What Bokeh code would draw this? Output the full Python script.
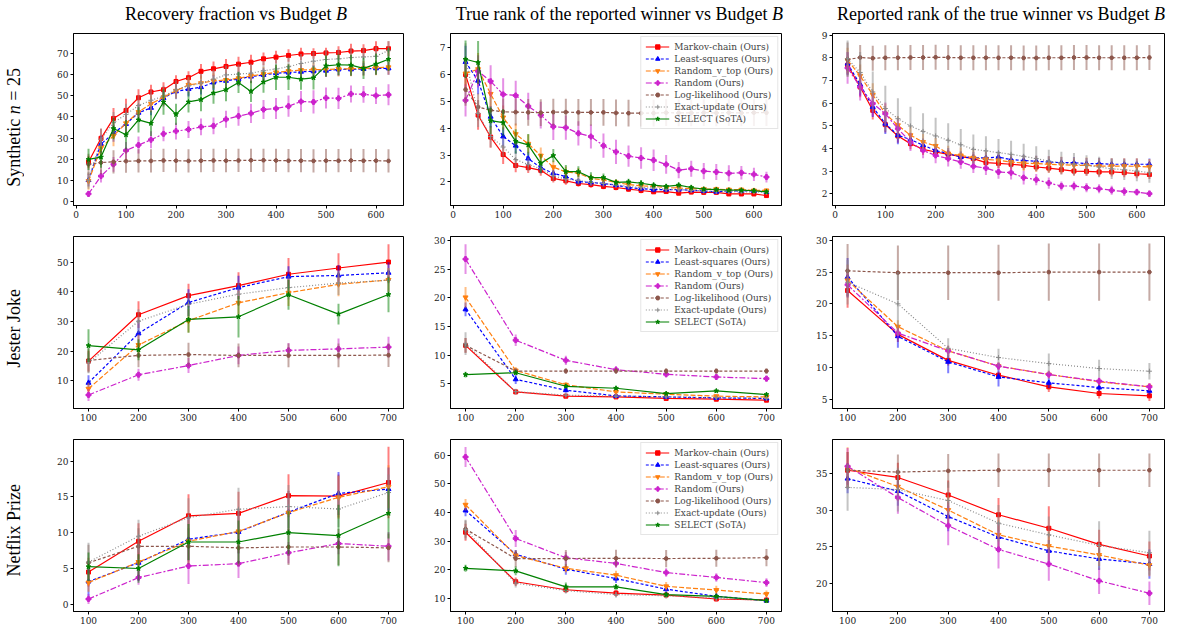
import numpy as np
from bokeh.plotting import figure
from bokeh.models import Range1d, FixedTicker, Legend, LegendItem, ColumnDataSource, Div
from bokeh.layouts import column, row
from bokeh.embed import file_html
from bokeh.resources import INLINE

# ---------------- data ----------------
METHODS = ["Markov-chain (Ours)", "Least-squares (Ours)", "Random_v_top (Ours)", "Random (Ours)",
           "Log-likelihood (Ours)", "Exact-update (Ours)", "SELECT (SoTA)"]
COL_TITLES = ["Recovery fraction vs Budget <i>B</i>", "True rank of the reported winner vs Budget <i>B</i>",
              "Reported rank of the true winner vs Budget <i>B</i>"]
ROW_LABELS = ["Synthetic <i>n</i> = 25", "Jester Joke", "Netflix Prize"]

X_SYN = [25, 50, 75, 100, 125, 150, 175, 200, 225, 250, 275, 300, 325,
         350, 375, 400, 425, 450, 475, 500, 525, 550, 575, 600, 625]
X_REAL = [100, 200, 300, 400, 500, 600, 700]

XT_SYN = [0, 100, 200, 300, 400, 500, 600]
XT_REAL = [100, 200, 300, 400, 500, 600, 700]

# Synthetic n=25 : recovery fraction
SYN_REC_MEAN = {
    "Markov-chain (Ours)": [18.7, 29.9, 39.3, 43.1, 49.1, 51.8, 52.9, 56.8, 58.6, 61.6, 62.8, 63.9, 65.0, 65.9, 67.5, 68.3, 69.1, 69.8, 70.0, 70.3, 70.5, 71.2, 71.4, 72.3, 72.3],
    "Least-squares (Ours)": [10.1, 27.2, 32.3, 36.7, 42.0, 44.3, 49.0, 52.1, 53.2, 54.1, 56.3, 57.1, 58.0, 59.1, 59.9, 60.7, 61.0, 61.4, 61.6, 61.9, 62.5, 62.5, 62.7, 63.0, 63.0],
    "Random_v_top (Ours)": [9.6, 25.3, 31.1, 37.0, 42.3, 46.2, 49.3, 52.4, 55.2, 56.0, 57.1, 57.5, 58.3, 59.4, 60.3, 61.1, 61.7, 62.2, 62.4, 62.5, 62.7, 62.8, 63.0, 63.3, 63.5],
    "Random (Ours)": [3.6, 12.0, 17.6, 24.1, 26.7, 29.2, 32.0, 33.3, 34.1, 35.3, 35.8, 38.9, 40.4, 41.7, 43.5, 44.0, 45.1, 47.3, 47.1, 49.0, 48.8, 50.9, 50.7, 50.1, 50.5],
    "Log-likelihood (Ours)": [17.6, 18.4, 18.8, 19.1, 19.2, 19.2, 19.4, 19.3, 19.2, 19.3, 19.4, 19.3, 19.4, 19.5, 19.5, 19.4, 19.3, 19.3, 19.2, 19.3, 19.3, 19.4, 19.3, 19.3, 19.2],
    "Exact-update (Ours)": [10.0, 29.5, 37.3, 41.2, 45.4, 47.9, 49.8, 52.9, 54.7, 56.0, 57.9, 59.9, 60.3, 60.7, 61.9, 62.7, 63.8, 65.3, 66.4, 67.2, 67.5, 68.1, 68.4, 68.7, 71.5],
    "SELECT (SoTA)": [19.9, 21.0, 34.5, 31.6, 38.6, 37.0, 47.1, 41.2, 47.1, 48.2, 51.3, 52.9, 56.3, 52.1, 56.5, 58.8, 58.8, 57.9, 58.5, 64.2, 64.7, 64.5, 63.0, 65.0, 67.3],
}
SYN_REC_ERR = {
    "Markov-chain (Ours)": [3.0, 4.5, 5.0, 5.5, 4.0, 3.5, 3.5, 3.0, 3.0, 3.5, 3.5, 3.5, 3.5, 3.5, 3.0, 3.0, 3.0, 3.0, 2.5, 2.5, 3.0, 3.5, 3.0, 3.5, 3.5],
    "Least-squares (Ours)": [3.0, 4.0, 4.0, 4.0, 4.0, 3.5, 3.5, 3.5, 3.5, 3.5, 3.5, 3.5, 3.5, 3.0, 3.0, 3.0, 3.0, 3.0, 3.0, 3.0, 3.0, 3.0, 3.0, 3.0, 3.0],
    "Random_v_top (Ours)": [4.0, 4.5, 5.0, 4.5, 4.0, 4.0, 4.0, 3.5, 3.5, 3.5, 3.5, 3.5, 3.5, 3.5, 3.5, 3.5, 3.5, 3.5, 3.5, 3.5, 3.5, 3.5, 3.5, 3.5, 3.5],
    "Random (Ours)": [1.5, 3.0, 3.5, 4.0, 4.0, 4.0, 3.5, 4.0, 4.0, 4.0, 4.0, 4.0, 4.5, 4.5, 4.5, 5.0, 5.0, 5.0, 5.5, 5.0, 5.0, 4.0, 4.0, 4.0, 5.0],
    "Log-likelihood (Ours)": [5.0, 5.5, 5.5, 5.5, 5.5, 5.5, 5.5, 5.5, 5.5, 5.5, 5.5, 5.5, 5.5, 5.5, 5.5, 5.5, 5.5, 5.5, 5.5, 5.5, 5.5, 5.5, 5.5, 5.5, 5.5],
    "Exact-update (Ours)": [4.0, 5.0, 5.0, 5.0, 5.0, 5.0, 5.0, 4.5, 4.5, 4.5, 4.5, 4.5, 4.5, 4.5, 4.5, 4.5, 4.5, 4.5, 4.5, 4.5, 4.5, 4.5, 4.5, 4.5, 4.5],
    "SELECT (SoTA)": [5.0, 5.0, 5.0, 7.0, 6.0, 6.0, 6.0, 5.0, 5.0, 5.5, 5.0, 5.5, 5.0, 5.0, 5.0, 6.0, 6.0, 5.0, 5.5, 5.0, 5.0, 5.0, 5.0, 5.0, 5.5],
}

# Synthetic : true rank of the reported winner
SYN_TRUE_MEAN = {
    "Markov-chain (Ours)": [6.00, 4.49, 3.67, 3.02, 2.61, 2.53, 2.43, 2.13, 2.04, 1.94, 1.90, 1.83, 1.79, 1.73, 1.68, 1.63, 1.64, 1.58, 1.62, 1.61, 1.61, 1.55, 1.55, 1.55, 1.49],
    "Least-squares (Ours)": [6.47, 5.77, 4.43, 3.69, 3.35, 2.87, 2.53, 2.32, 2.20, 2.01, 1.98, 1.94, 1.88, 1.79, 1.75, 1.71, 1.71, 1.71, 1.69, 1.66, 1.63, 1.66, 1.66, 1.66, 1.63],
    "Random_v_top (Ours)": [6.04, 6.20, 5.28, 4.40, 3.78, 3.42, 2.98, 2.55, 2.37, 2.32, 2.13, 2.07, 1.98, 1.90, 1.85, 1.83, 1.79, 1.77, 1.75, 1.73, 1.73, 1.71, 1.71, 1.68, 1.68],
    "Random (Ours)": [5.04, 6.12, 5.75, 5.26, 5.22, 4.82, 4.49, 4.06, 4.02, 3.81, 3.69, 3.35, 3.12, 2.96, 2.89, 2.81, 2.65, 2.44, 2.49, 2.40, 2.37, 2.32, 2.34, 2.28, 2.18],
    "Log-likelihood (Ours)": [5.44, 4.79, 4.67, 4.61, 4.60, 4.59, 4.58, 4.60, 4.60, 4.59, 4.59, 4.59, 4.57, 4.56, 4.56, 4.56, 4.58, 4.57, 4.57, 4.58, 4.57, 4.58, 4.57, 4.58, 4.58],
    "Exact-update (Ours)": [6.57, 4.55, 3.69, 3.30, 2.83, 2.65, 2.49, 2.22, 2.10, 2.06, 1.98, 1.94, 1.89, 1.83, 1.79, 1.77, 1.73, 1.71, 1.69, 1.66, 1.64, 1.64, 1.63, 1.63, 1.61],
    "SELECT (SoTA)": [6.57, 6.45, 4.28, 4.21, 3.51, 3.38, 2.69, 2.98, 2.38, 2.38, 2.16, 2.16, 1.98, 2.00, 1.95, 1.88, 1.83, 1.88, 1.79, 1.73, 1.71, 1.69, 1.69, 1.67, 1.63],
}
SYN_TRUE_ERR = {
    "Markov-chain (Ours)": [0.60, 0.55, 0.40, 0.35, 0.25, 0.20, 0.20, 0.15, 0.15, 0.12, 0.12, 0.10, 0.10, 0.10, 0.10, 0.08, 0.08, 0.08, 0.08, 0.08, 0.08, 0.08, 0.08, 0.08, 0.08],
    "Least-squares (Ours)": [0.60, 0.50, 0.40, 0.35, 0.30, 0.25, 0.20, 0.15, 0.15, 0.12, 0.12, 0.12, 0.10, 0.10, 0.10, 0.10, 0.10, 0.10, 0.08, 0.08, 0.08, 0.08, 0.08, 0.08, 0.08],
    "Random_v_top (Ours)": [0.60, 0.60, 0.50, 0.45, 0.40, 0.35, 0.30, 0.25, 0.20, 0.20, 0.15, 0.15, 0.12, 0.12, 0.12, 0.10, 0.10, 0.10, 0.10, 0.10, 0.10, 0.10, 0.10, 0.10, 0.08],
    "Random (Ours)": [0.60, 0.60, 0.60, 0.60, 0.55, 0.50, 0.50, 0.50, 0.45, 0.45, 0.45, 0.45, 0.45, 0.40, 0.40, 0.40, 0.35, 0.30, 0.30, 0.30, 0.30, 0.30, 0.25, 0.25, 0.20],
    "Log-likelihood (Ours)": [0.60, 0.50, 0.50, 0.50, 0.50, 0.50, 0.50, 0.50, 0.50, 0.50, 0.50, 0.50, 0.50, 0.50, 0.50, 0.50, 0.50, 0.50, 0.50, 0.50, 0.50, 0.50, 0.50, 0.50, 0.50],
    "Exact-update (Ours)": [0.60, 0.50, 0.40, 0.35, 0.30, 0.25, 0.20, 0.20, 0.15, 0.15, 0.12, 0.12, 0.12, 0.10, 0.10, 0.10, 0.10, 0.10, 0.10, 0.08, 0.08, 0.08, 0.08, 0.08, 0.08],
    "SELECT (SoTA)": [0.70, 0.80, 0.50, 0.50, 0.45, 0.40, 0.35, 0.25, 0.25, 0.20, 0.20, 0.15, 0.12, 0.12, 0.12, 0.10, 0.10, 0.10, 0.10, 0.08, 0.08, 0.08, 0.08, 0.08, 0.08],
}

# Synthetic : reported rank of the true winner
SYN_REP_MEAN = {
    "Markov-chain (Ours)": [7.67, 6.71, 5.68, 5.05, 4.55, 4.21, 3.96, 3.84, 3.74, 3.63, 3.55, 3.37, 3.34, 3.30, 3.25, 3.18, 3.13, 3.06, 3.00, 2.99, 2.96, 2.96, 2.93, 2.88, 2.85],
    "Least-squares (Ours)": [7.74, 6.82, 5.83, 5.09, 4.58, 4.39, 4.14, 3.91, 3.77, 3.62, 3.59, 3.58, 3.62, 3.50, 3.47, 3.43, 3.40, 3.37, 3.37, 3.33, 3.33, 3.30, 3.30, 3.30, 3.30],
    "Random_v_top (Ours)": [7.89, 7.20, 6.37, 5.53, 5.02, 4.58, 4.28, 4.11, 3.77, 3.69, 3.59, 3.52, 3.47, 3.40, 3.35, 3.33, 3.30, 3.28, 3.25, 3.25, 3.22, 3.22, 3.22, 3.21, 3.18],
    "Random (Ours)": [7.55, 6.71, 5.98, 5.53, 4.87, 4.28, 3.91, 3.69, 3.55, 3.40, 3.21, 3.13, 2.96, 2.93, 2.71, 2.62, 2.47, 2.34, 2.34, 2.27, 2.22, 2.15, 2.10, 2.07, 2.00],
    "Log-likelihood (Ours)": [7.92, 8.01, 7.98, 8.00, 8.00, 8.01, 8.01, 8.02, 8.01, 8.00, 8.00, 8.00, 8.00, 8.00, 7.99, 7.99, 8.00, 8.00, 8.01, 8.01, 8.00, 8.00, 8.00, 8.00, 8.01],
    "Exact-update (Ours)": [7.96, 7.35, 6.49, 5.76, 5.31, 4.99, 4.75, 4.55, 4.36, 4.16, 3.96, 3.89, 3.81, 3.74, 3.65, 3.55, 3.44, 3.35, 3.30, 3.25, 3.18, 3.10, 3.06, 3.00, 2.93],
}
SYN_REP_ERR = {
    "Markov-chain (Ours)": [0.40, 0.45, 0.40, 0.35, 0.30, 0.25, 0.25, 0.20, 0.20, 0.20, 0.20, 0.20, 0.20, 0.20, 0.20, 0.20, 0.20, 0.20, 0.20, 0.20, 0.20, 0.20, 0.20, 0.20, 0.20],
    "Least-squares (Ours)": [0.50, 0.50, 0.45, 0.45, 0.40, 0.30, 0.30, 0.25, 0.25, 0.25, 0.25, 0.25, 0.25, 0.25, 0.25, 0.25, 0.25, 0.25, 0.25, 0.25, 0.25, 0.25, 0.25, 0.25, 0.25],
    "Random_v_top (Ours)": [0.55, 0.50, 0.50, 0.45, 0.40, 0.40, 0.35, 0.35, 0.35, 0.35, 0.35, 0.35, 0.35, 0.35, 0.35, 0.35, 0.35, 0.35, 0.35, 0.35, 0.35, 0.35, 0.35, 0.35, 0.35],
    "Random (Ours)": [0.70, 0.60, 0.55, 0.50, 0.45, 0.40, 0.35, 0.35, 0.35, 0.30, 0.30, 0.30, 0.30, 0.30, 0.30, 0.25, 0.25, 0.20, 0.20, 0.20, 0.20, 0.20, 0.20, 0.15, 0.15],
    "Log-likelihood (Ours)": [0.75, 0.55, 0.55, 0.55, 0.55, 0.55, 0.55, 0.55, 0.55, 0.55, 0.55, 0.55, 0.55, 0.55, 0.55, 0.55, 0.55, 0.55, 0.55, 0.55, 0.55, 0.55, 0.55, 0.55, 0.55],
    "Exact-update (Ours)": [0.80, 0.90, 0.90, 1.00, 0.90, 0.85, 0.80, 0.80, 0.75, 0.70, 0.65, 0.65, 0.60, 0.60, 0.55, 0.55, 0.50, 0.50, 0.50, 0.45, 0.45, 0.45, 0.45, 0.45, 0.45],
}

# Jester Joke
JES_REC_MEAN = {
    "Markov-chain (Ours)": [16.7, 32.3, 38.7, 42.1, 45.9, 48.0, 50.0],
    "Least-squares (Ours)": [9.4, 26.0, 36.4, 41.4, 45.1, 45.5, 46.4],
    "Random_v_top (Ours)": [7.4, 22.1, 30.3, 36.3, 39.7, 42.5, 44.0],
    "Random (Ours)": [5.3, 12.1, 15.2, 18.6, 20.3, 20.8, 21.4],
    "Log-likelihood (Ours)": [16.9, 18.6, 18.9, 18.6, 18.6, 18.6, 18.7],
    "Exact-update (Ours)": [16.1, 30.1, 35.8, 39.2, 41.4, 42.9, 43.9],
    "SELECT (SoTA)": [21.9, 20.5, 30.7, 31.6, 39.0, 32.5, 39.1],
}
JES_REC_ERR = {
    "Markov-chain (Ours)": [3.5, 4.5, 4.0, 4.5, 5.5, 5.0, 6.0],
    "Least-squares (Ours)": [2.5, 4.5, 4.5, 4.0, 3.5, 3.5, 3.5],
    "Random_v_top (Ours)": [2.0, 3.5, 4.0, 4.0, 4.5, 4.0, 4.0],
    "Random (Ours)": [2.0, 2.0, 2.5, 3.0, 2.5, 3.5, 3.5],
    "Log-likelihood (Ours)": [4.0, 4.0, 4.0, 4.0, 4.0, 4.0, 4.0],
    "Exact-update (Ours)": [3.5, 4.0, 4.0, 4.0, 4.0, 4.0, 4.0],
    "SELECT (SoTA)": [5.5, 3.5, 4.5, 7.0, 5.0, 3.5, 6.0],
}
JES_TRUE_MEAN = {
    "Markov-chain (Ours)": [11.7, 3.55, 2.8, 2.67, 2.4, 2.27, 2.1],
    "Least-squares (Ours)": [18.0, 5.75, 3.84, 2.85, 2.67, 2.5, 2.4],
    "Random_v_top (Ours)": [20.1, 7.3, 4.8, 3.55, 3.14, 2.8, 2.67],
    "Random (Ours)": [26.8, 12.6, 9.07, 7.44, 6.63, 6.16, 5.87],
    "Log-likelihood (Ours)": [11.7, 7.2, 7.2, 7.2, 7.2, 7.2, 7.2],
    "Exact-update (Ours)": [12.0, 3.6, 2.97, 2.8, 2.67, 2.55, 2.4],
    "SELECT (SoTA)": [6.57, 6.9, 4.53, 4.19, 3.26, 3.72, 3.08],
}
JES_TRUE_ERR = {
    "Markov-chain (Ours)": [1.3, 0.4, 0.3, 0.3, 0.3, 0.3, 0.3],
    "Least-squares (Ours)": [1.2, 0.8, 0.4, 0.3, 0.3, 0.3, 0.3],
    "Random_v_top (Ours)": [1.8, 0.6, 0.5, 0.4, 0.3, 0.3, 0.3],
    "Random (Ours)": [2.6, 1.0, 0.8, 0.6, 0.5, 0.5, 0.5],
    "Log-likelihood (Ours)": [1.3, 0.5, 0.5, 0.5, 0.5, 0.5, 0.5],
    "Exact-update (Ours)": [2.0, 0.5, 0.3, 0.3, 0.3, 0.3, 0.3],
    "SELECT (SoTA)": [0.5, 0.4, 0.3, 0.3, 0.3, 0.3, 0.3],
}
JES_REP_MEAN = {
    "Markov-chain (Ours)": [22.1, 15.2, 11.1, 8.77, 6.94, 5.89, 5.52],
    "Least-squares (Ours)": [24.2, 14.9, 10.87, 8.5, 7.57, 6.83, 6.31],
    "Random_v_top (Ours)": [23.7, 16.4, 12.6, 10.2, 8.88, 7.73, 6.94],
    "Random (Ours)": [23.0, 15.4, 12.6, 10.2, 8.88, 7.83, 6.94],
    "Log-likelihood (Ours)": [25.2, 24.9, 24.9, 24.9, 25.0, 25.0, 25.0],
    "Exact-update (Ours)": [23.4, 20.0, 13.0, 11.55, 10.6, 9.82, 9.4],
}
JES_REP_ERR = {
    "Markov-chain (Ours)": [2.7, 1.2, 0.8, 0.6, 0.8, 0.8, 0.8],
    "Least-squares (Ours)": [3.0, 1.8, 1.8, 1.5, 0.8, 0.6, 0.6],
    "Random_v_top (Ours)": [2.5, 1.0, 0.8, 0.6, 0.6, 0.6, 0.6],
    "Random (Ours)": [2.0, 0.8, 0.8, 0.6, 0.6, 0.6, 0.6],
    "Log-likelihood (Ours)": [4.2, 4.3, 4.3, 4.4, 4.5, 4.5, 4.5],
    "Exact-update (Ours)": [3.5, 5.0, 1.6, 1.4, 1.6, 1.4, 1.3],
}

# Netflix Prize
NET_REC_MEAN = {
    "Markov-chain (Ours)": [4.5, 8.8, 12.35, 12.7, 15.16, 15.1, 17.0],
    "Least-squares (Ours)": [3.18, 5.8, 9.08, 10.1, 12.86, 15.48, 16.08],
    "Random_v_top (Ours)": [3.04, 5.9, 8.8, 10.18, 12.8, 14.93, 16.4],
    "Random (Ours)": [0.74, 3.73, 5.35, 5.67, 7.19, 8.48, 8.11],
    "Log-likelihood (Ours)": [5.8, 8.1, 8.1, 7.88, 8.0, 8.0, 7.88],
    "Exact-update (Ours)": [5.9, 9.5, 12.1, 13.27, 13.64, 13.3, 15.6],
    "SELECT (SoTA)": [5.25, 5.0, 8.7, 8.7, 10.0, 9.6, 12.7],
}
NET_REC_ERR = {
    "Markov-chain (Ours)": [2.0, 2.5, 3.0, 3.0, 3.0, 3.0, 5.0],
    "Least-squares (Ours)": [2.0, 2.5, 3.0, 3.0, 3.0, 3.0, 3.0],
    "Random_v_top (Ours)": [1.3, 2.5, 3.0, 3.0, 3.0, 3.0, 3.0],
    "Random (Ours)": [0.7, 1.0, 2.5, 2.0, 1.5, 1.5, 2.0],
    "Log-likelihood (Ours)": [2.5, 2.5, 2.5, 2.5, 2.5, 2.5, 2.0],
    "Exact-update (Ours)": [2.7, 2.3, 2.7, 3.0, 3.0, 2.5, 2.5],
    "SELECT (SoTA)": [2.0, 2.0, 2.5, 3.0, 3.0, 4.3, 3.5],
}
NET_TRUE_MEAN = {
    "Markov-chain (Ours)": [33.1, 15.8, 13.0, 11.85, 11.15, 9.77, 9.42],
    "Least-squares (Ours)": [40.7, 25.4, 20.2, 16.9, 13.2, 10.7, 9.2],
    "Random_v_top (Ours)": [42.7, 25.0, 20.5, 18.1, 14.2, 12.9, 11.5],
    "Random (Ours)": [59.4, 30.9, 24.2, 22.2, 19.0, 17.3, 15.5],
    "Log-likelihood (Ours)": [34.2, 23.9, 23.9, 24.0, 23.9, 24.0, 24.2],
    "Exact-update (Ours)": [34.0, 15.3, 12.7, 11.3, 10.9, 10.1, 9.2],
    "SELECT (SoTA)": [20.5, 19.6, 14.0, 14.0, 11.3, 10.7, 9.2],
}
NET_TRUE_ERR = {
    "Markov-chain (Ours)": [3.0, 1.5, 1.0, 1.0, 0.8, 0.8, 0.8],
    "Least-squares (Ours)": [2.0, 1.5, 2.0, 1.5, 1.5, 1.0, 0.8],
    "Random_v_top (Ours)": [2.0, 1.5, 1.5, 1.5, 1.5, 1.5, 1.2],
    "Random (Ours)": [3.5, 3.0, 2.0, 1.5, 1.5, 1.5, 1.5],
    "Log-likelihood (Ours)": [3.0, 3.0, 3.0, 3.0, 3.0, 3.0, 3.0],
    "Exact-update (Ours)": [3.5, 1.5, 1.0, 1.0, 1.0, 1.0, 0.8],
    "SELECT (SoTA)": [1.2, 1.5, 1.5, 1.0, 0.8, 0.8, 0.8],
}
NET_REP_MEAN = {
    "Markov-chain (Ours)": [35.45, 34.46, 32.06, 29.35, 27.5, 25.3, 23.7],
    "Least-squares (Ours)": [34.3, 32.6, 29.1, 26.3, 24.4, 23.3, 22.6],
    "Random_v_top (Ours)": [35.8, 33.2, 30.0, 26.6, 25.06, 23.84, 22.44],
    "Random (Ours)": [36.0, 31.7, 27.86, 24.6, 22.6, 20.3, 18.6],
    "Log-likelihood (Ours)": [35.45, 35.2, 35.36, 35.45, 35.45, 35.45, 35.45],
    "Exact-update (Ours)": [33.1, 32.8, 31.3, 28.2, 26.6, 25.15, 24.15],
}
NET_REP_ERR = {
    "Markov-chain (Ours)": [2.5, 2.0, 2.0, 2.3, 3.0, 2.0, 2.0],
    "Least-squares (Ours)": [2.0, 2.0, 2.0, 2.0, 1.5, 1.5, 2.0],
    "Random_v_top (Ours)": [2.8, 2.0, 2.0, 2.0, 2.0, 1.5, 1.5],
    "Random (Ours)": [2.5, 2.2, 2.7, 2.6, 2.3, 1.8, 1.6],
    "Log-likelihood (Ours)": [2.5, 2.4, 2.3, 2.3, 2.3, 2.3, 2.3],
    "Exact-update (Ours)": [3.2, 3.0, 2.5, 2.5, 2.5, 3.3, 3.0],
}

# y ticks per panel
YT = [
    [[0, 10, 20, 30, 40, 50, 60, 70], [2, 3, 4, 5, 6, 7], [2, 3, 4, 5, 6, 7, 8, 9]],
    [[10, 20, 30, 40, 50], [5, 10, 15, 20, 25, 30], [5, 10, 15, 20, 25, 30]],
    [[0, 5, 10, 15, 20], [10, 20, 30, 40, 50, 60], [20, 25, 30, 35]],
]

# ---------------- style ----------------
STYLE = {
    "Markov-chain (Ours)": dict(color="#ff0000", dash="solid", marker="square", size=4),
    "Least-squares (Ours)": dict(color="#0000ff", dash="3 2", marker="triangle", size=5),
    "Random_v_top (Ours)": dict(color="#ff7f0e", dash="5 2", marker="inverted_triangle", size=5),
    "Random (Ours)": dict(color="#cc22cc", dash="6 2 2 2", marker="plus", size=5),
    "Log-likelihood (Ours)": dict(color="#8c564b", dash="3 2", marker="hex", size=4),
    "Exact-update (Ours)": dict(color="#8a8a8a", dash="1 2", marker="cross", size=5),
    "SELECT (SoTA)": dict(color="#008000", dash="solid", marker="star", size=5),
}

SERIF = "Liberation Serif"
TICKF = "DejaVu Serif"

LABEL_W = 28
TITLE_H = 28
COL_W = [(45, 330, 22), (25, 331, 26), (25, 332, 7)]
ROW_H = [(5, 172, 17), (14, 172, 17), (14, 172, 17)]
ROW_LABEL_SHIFT = [2, 5, 4]
TITLE_RIGHT = [824, 388, 6]   # distance from the right edge of the 1171px title strip

PANELS = [
    [(X_SYN, SYN_REC_MEAN, SYN_REC_ERR, (-5, 655), (-1.9, 79.5)),
     (X_SYN, SYN_TRUE_MEAN, SYN_TRUE_ERR, (-5, 655), (1.12, 7.53)),
     (X_SYN, SYN_REP_MEAN, SYN_REP_ERR, (-5, 655), (1.48, 9.07))],
    [(X_REAL, JES_REC_MEAN, JES_REC_ERR, (70, 730), (0.75, 58.6)),
     (X_REAL, JES_TRUE_MEAN, JES_TRUE_ERR, (70, 730), (0.64, 30.76)),
     (X_REAL, JES_REP_MEAN, JES_REP_ERR, (70, 730), (3.53, 30.6))],
    [(X_REAL, NET_REC_MEAN, NET_REC_ERR, (70, 730), (-1.0, 23.0)),
     (X_REAL, NET_TRUE_MEAN, NET_TRUE_ERR, (70, 730), (5.4, 65.5)),
     (X_REAL, NET_REP_MEAN, NET_REP_ERR, (70, 730), (16.1, 39.66))],
]


def make_panel(ri, ci):
    x, means, errs, xr, yr = PANELS[ri][ci]
    bl, fw, br = COL_W[ci]
    bt, fh, bb = ROW_H[ri]
    p = figure(frame_width=fw, frame_height=fh, min_border_left=bl, min_border_right=br,
               min_border_top=bt, min_border_bottom=bb, x_range=Range1d(*xr), y_range=Range1d(*yr),
               output_backend="svg", toolbar_location=None, background_fill_color="white",
               border_fill_color="white")
    p.grid.visible = False
    p.outline_line_color = "black"
    p.outline_line_width = 1
    for ax in (p.xaxis, p.yaxis):
        ax.axis_line_color = "black"
        ax.major_tick_line_color = "black"
        ax.minor_tick_line_color = None
        ax.major_tick_out = 3
        ax.major_tick_in = 0
        ax.major_label_text_font = TICKF
        ax.major_label_text_font_size = "9px"
        ax.major_label_text_color = "#222222"
        ax.major_label_standoff = 2
    p.xaxis.ticker = FixedTicker(ticks=XT_SYN if ri == 0 else XT_REAL)
    p.yaxis.ticker = FixedTicker(ticks=YT[ri][ci])

    items = []
    for m in METHODS:
        if m not in means:
            continue
        st = STYLE[m]
        y = np.array(means[m], dtype=float)
        e = np.array(errs[m], dtype=float)
        src = ColumnDataSource(dict(x=x, y=y, lo=y - e, hi=y + e))
        p.segment("x", "lo", "x", "hi", source=src, line_color=st["color"], line_alpha=0.5, line_width=2)
        ln = p.line("x", "y", source=src, line_color=st["color"], line_dash=st["dash"], line_width=1.2)
        sc = p.scatter("x", "y", source=src, marker=st["marker"], size=st["size"],
                       fill_color=st["color"], line_color=st["color"], line_width=1)
        items.append(LegendItem(label=m, renderers=[ln, sc]))

    if ci == 1:
        lg = Legend(items=items, location="top_right")
        lg.label_text_font = TICKF
        lg.label_text_font_size = "9px"
        lg.label_height = 11
        lg.glyph_height = 11
        lg.glyph_width = 24
        lg.label_standoff = 5
        lg.spacing = 1
        lg.padding = 4
        lg.margin = 3
        lg.border_line_color = "#cccccc"
        lg.background_fill_alpha = 0.85
        p.add_layout(lg)
    return p


# title strip
spans = "".join(
    f'<span style="position:absolute;right:{TITLE_RIGHT[i]}px;top:5px;white-space:nowrap;">{t}</span>'
    for i, t in enumerate(COL_TITLES))
title_html = (f'<div style="position:relative;width:1171px;height:{TITLE_H}px;font-family:\'{SERIF}\';'
              f'font-size:18px;line-height:18px;color:black;">{spans}</div>')
title_div = Div(text=title_html, width=1171, height=TITLE_H, margin=0)

rows = [title_div]
for ri in range(3):
    bt, fh, bb = ROW_H[ri]
    h = bt + fh + bb
    lab_html = (f'<div style="width:{LABEL_W}px;height:{h}px;display:flex;align-items:center;'
                f'justify-content:center;">'
                f'<div style="position:relative;top:{ROW_LABEL_SHIFT[ri]}px;writing-mode:vertical-rl;'
                f'transform:rotate(180deg);font-family:\'{SERIF}\';font-size:18px;line-height:20px;'
                f'white-space:nowrap;color:black;">{ROW_LABELS[ri]}</div></div>')
    lab = Div(text=lab_html, width=LABEL_W, height=h, margin=0)
    rows.append(row(lab, *[make_panel(ri, ci) for ci in range(3)], spacing=0))
layout = column(*rows, spacing=0)

open("out.html", "w").write(file_html(layout, INLINE))
